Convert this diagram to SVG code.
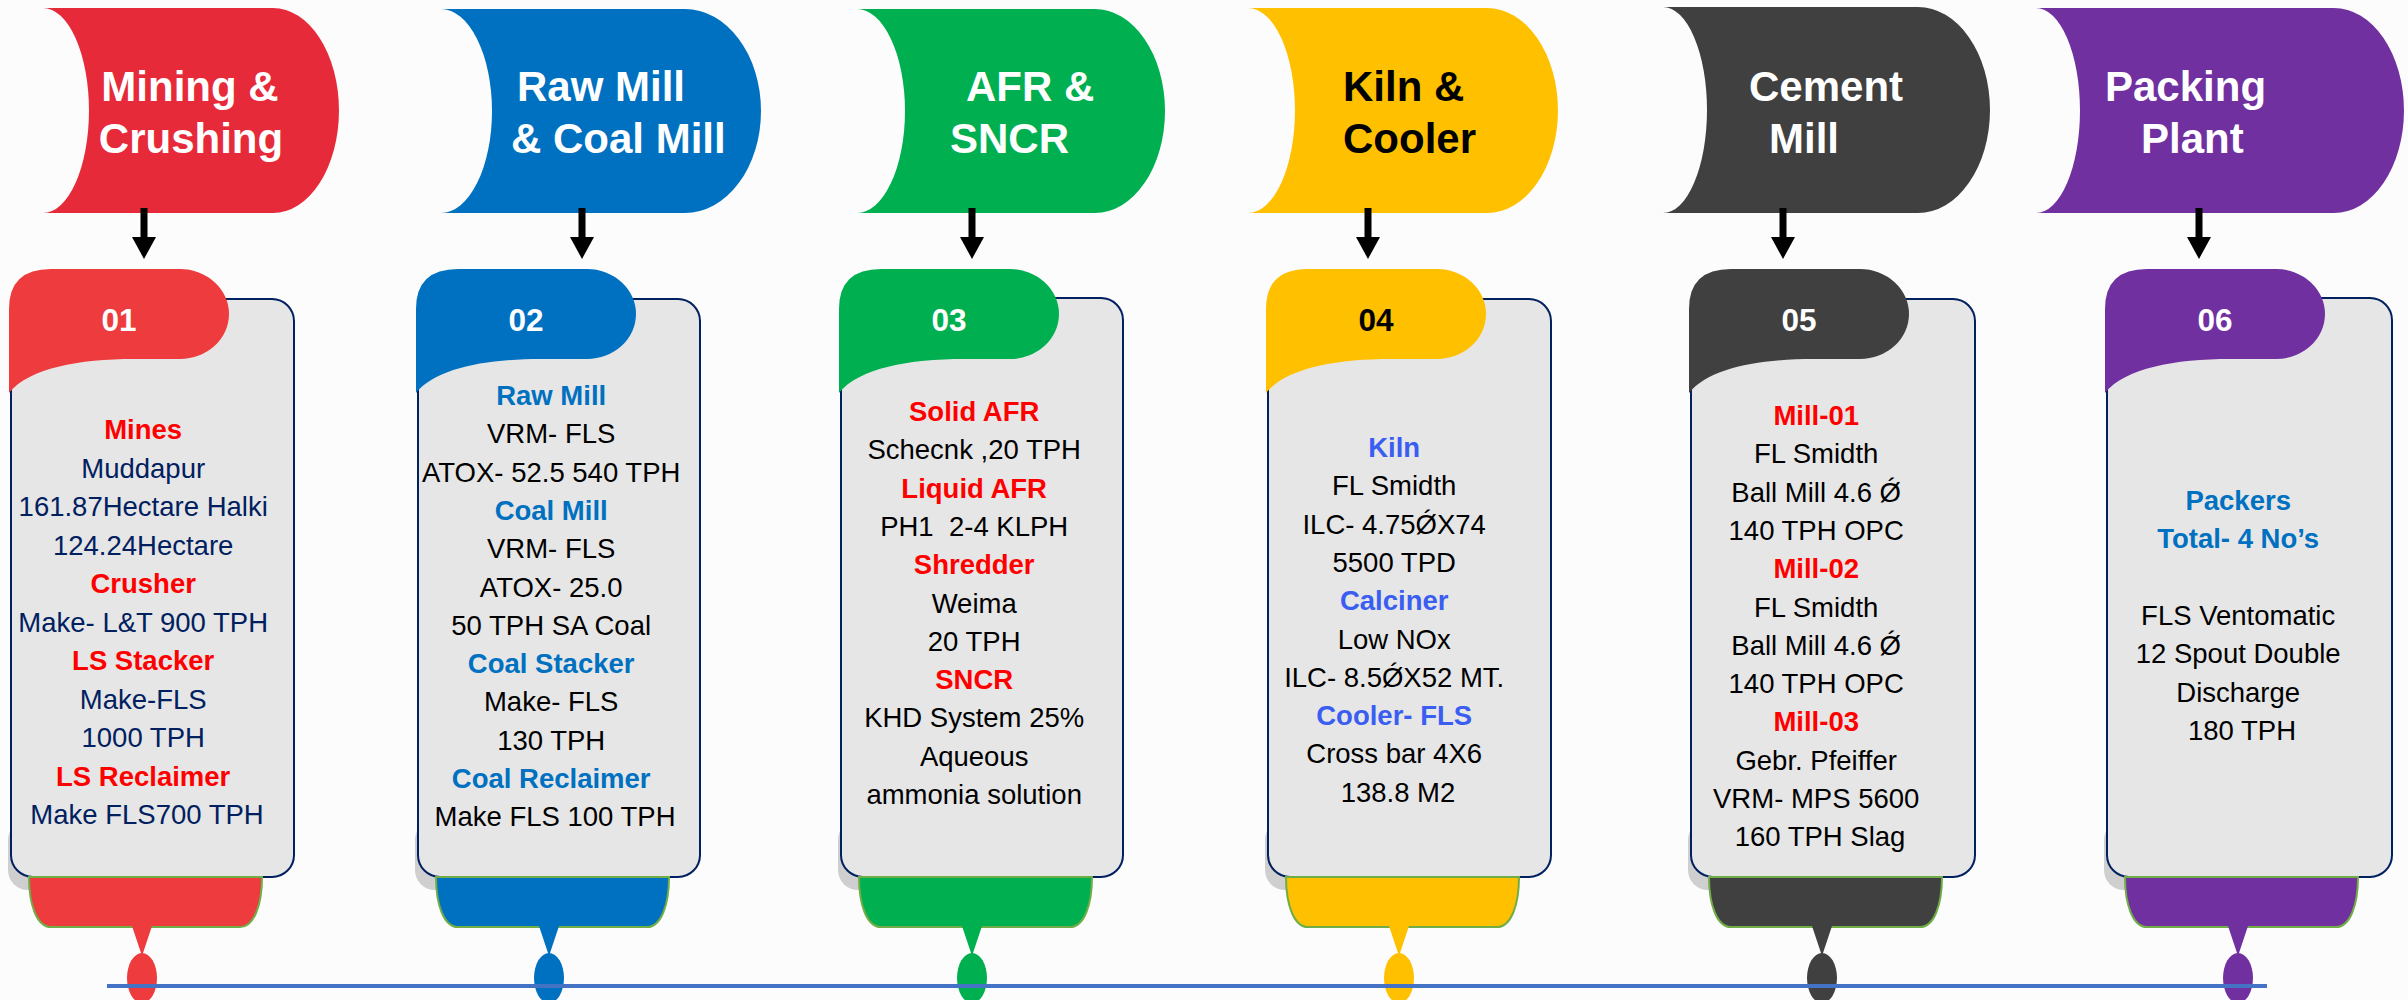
<svg xmlns="http://www.w3.org/2000/svg" width="2408" height="1000" viewBox="0 0 2408 1000">
<defs>
<marker id="ah" markerUnits="userSpaceOnUse" markerWidth="22" markerHeight="24" refX="0" refY="12" orient="auto" viewBox="0 0 22 24"><path d="M0,0 L22,12 L0,24 Z" fill="#000"/></marker>
<style>
.hd{font-family:"Liberation Sans",Arial,sans-serif;font-weight:bold;font-size:42px;fill:#fff}
.num{font-family:"Liberation Sans",Arial,sans-serif;font-weight:bold;font-size:31.5px;fill:#fff;text-anchor:middle}
.bx{fill:#E6E6E6;stroke:#002060;stroke-width:2}
.sh{fill:#CFCFCF}
.bt{stroke:#70AD47;stroke-width:2}
.tx{font-family:"Liberation Sans",Arial,sans-serif;font-size:27.5px;fill:#000;text-anchor:middle}
.b{font-weight:bold}
.r{fill:#FF0000}
.bl{fill:#0070C0}
.bl2{fill:#3A5DF2}
.nv{fill:#002060}
.arr{stroke:#000;stroke-width:7;fill:none}
</style>
</defs>
<rect width="2408" height="1000" fill="#FCFCFC"/>

<!-- Headers -->
<g id="header1">
<path d="M43,8 L273,8 A66,102.5 0 0 1 273,213 L43,213 A46,102.5 0 0 0 43,8 Z" fill="#E62A3A"/>
<text class="hd" x="190" y="101" text-anchor="middle">Mining &amp;</text>
<text class="hd" x="191" y="153" text-anchor="middle">Crushing</text>
</g>
<g id="header2">
<path d="M441,9 L685,9 A76,102 0 0 1 685,213 L441,213 A51,102 0 0 0 441,9 Z" fill="#0070C0"/>
<text class="hd" x="517" y="101">Raw Mill</text>
<text class="hd" x="511" y="153">&amp; Coal Mill</text>
</g>
<g id="header3">
<path d="M857,9 L1095,9 A70,102 0 0 1 1095,213 L857,213 A48,102 0 0 0 857,9 Z" fill="#00B050"/>
<text class="hd" x="966" y="101">AFR &amp;</text>
<text class="hd" x="950" y="153">SNCR</text>
</g>
<g id="header4">
<path d="M1248,8 L1487,8 A71,102.5 0 0 1 1487,213 L1248,213 A47,102.5 0 0 0 1248,8 Z" fill="#FFC000"/>
<text class="hd" x="1343" y="101" style="fill:#000">Kiln &amp;</text>
<text class="hd" x="1343" y="153" style="fill:#000">Cooler</text>
</g>
<g id="header5">
<path d="M1663,7 L1918,7 A72,103 0 0 1 1918,213 L1663,213 A44,103 0 0 0 1663,7 Z" fill="#404040"/>
<text class="hd" x="1749" y="101">Cement</text>
<text class="hd" x="1769" y="153">Mill</text>
</g>
<g id="header6">
<path d="M2036,8 L2334,8 A70,102.5 0 0 1 2334,213 L2036,213 A44,102.5 0 0 0 2036,8 Z" fill="#7030A0"/>
<text class="hd" x="2105" y="101">Packing</text>
<text class="hd" x="2141" y="153">Plant</text>
</g>

<!-- Cards -->
<g id="card1">
<rect class="sh" x="8" y="820" width="255" height="70" rx="20"/>
<rect class="bx" x="11" y="299" width="283" height="578" rx="22"/>
<path d="M9,309 Q9,269 51,269 L180,269 A49,45 0 0 1 180,359 L134,359 C79,359 29,368 9,393 Z" fill="#EE3B3E"/>
<text class="num" x="119" y="331">01</text>
<path class="bt" d="M29,877 L262,877 C262,905 254,927 240,927 L51,927 C37,927 29,905 29,877 Z" fill="#EE3B3E"/>
<path d="M132,926 L152,926 L142,956 Z" fill="#EE3B3E"/>
<ellipse cx="142" cy="978" rx="15" ry="25" fill="#EE3B3E"/>
<text class="tx nv">
<tspan x="147" y="439" class="b r">Mines</tspan>
<tspan x="147" y="477.5">Muddapur</tspan>
<tspan x="147" y="516">161.87Hectare Halki</tspan>
<tspan x="147" y="554.5">124.24Hectare</tspan>
<tspan x="147" y="593" class="b r">Crusher</tspan>
<tspan x="147" y="631.5">Make- L&amp;T 900 TPH</tspan>
<tspan x="147" y="670" class="b r">LS Stacker</tspan>
<tspan x="147" y="708.5">Make-FLS</tspan>
<tspan x="147" y="747">1000 TPH</tspan>
<tspan x="147" y="785.5" class="b r">LS Reclaimer</tspan>
<tspan x="147" y="824">Make FLS700 TPH</tspan>
</text>
</g>

<g id="card2">
<rect class="sh" x="415" y="820" width="255" height="70" rx="20"/>
<rect class="bx" x="418" y="299" width="282" height="578" rx="22"/>
<path d="M416,309 Q416,269 458,269 L587,269 A49,45 0 0 1 587,359 L541,359 C486,359 436,368 416,393 Z" fill="#0070C0"/>
<text class="num" x="526" y="331">02</text>
<path class="bt" d="M436,877 L669,877 C669,905 661,927 647,927 L458,927 C444,927 436,905 436,877 Z" fill="#0070C0"/>
<path d="M539,926 L559,926 L549,956 Z" fill="#0070C0"/>
<ellipse cx="549" cy="978" rx="15" ry="25" fill="#0070C0"/>
<text class="tx">
<tspan x="555" y="405" class="b bl">Raw Mill</tspan>
<tspan x="555" y="443.3">VRM- FLS</tspan>
<tspan x="555" y="481.6">ATOX- 52.5 540 TPH</tspan>
<tspan x="555" y="519.9" class="b bl">Coal Mill</tspan>
<tspan x="555" y="558.2">VRM- FLS</tspan>
<tspan x="555" y="596.5">ATOX- 25.0</tspan>
<tspan x="555" y="634.8">50 TPH SA Coal</tspan>
<tspan x="555" y="673.1" class="b bl">Coal Stacker</tspan>
<tspan x="555" y="711.4">Make- FLS</tspan>
<tspan x="555" y="749.7">130 TPH</tspan>
<tspan x="555" y="788" class="b bl">Coal Reclaimer</tspan>
<tspan x="555" y="826.3">Make FLS 100 TPH</tspan>
</text>
</g>

<g id="card3">
<rect class="sh" x="838" y="820" width="255" height="70" rx="20"/>
<rect class="bx" x="841" y="298" width="282" height="579" rx="22"/>
<path d="M839,309 Q839,269 881,269 L1010,269 A49,45 0 0 1 1010,359 L964,359 C909,359 859,368 839,393 Z" fill="#00B050"/>
<text class="num" x="949" y="331">03</text>
<path class="bt" d="M859,877 L1092,877 C1092,905 1084,927 1070,927 L881,927 C867,927 859,905 859,877 Z" fill="#00B050"/>
<path d="M962,926 L982,926 L972,956 Z" fill="#00B050"/>
<ellipse cx="972" cy="978" rx="15" ry="25" fill="#00B050"/>
<text class="tx" xml:space="preserve">
<tspan x="978" y="421" class="b r">Solid AFR</tspan>
<tspan x="978" y="459.3">Schecnk ,20 TPH</tspan>
<tspan x="978" y="497.6" class="b r">Liquid AFR</tspan>
<tspan x="978" y="535.9">PH1  2-4 KLPH</tspan>
<tspan x="978" y="574.2" class="b r">Shredder</tspan>
<tspan x="978" y="612.5">Weima</tspan>
<tspan x="978" y="650.8">20 TPH</tspan>
<tspan x="978" y="689.1" class="b r">SNCR</tspan>
<tspan x="978" y="727.4">KHD System 25%</tspan>
<tspan x="978" y="765.7">Aqueous</tspan>
<tspan x="978" y="804">ammonia solution</tspan>
</text>
</g>

<g id="card4">
<rect class="sh" x="1265" y="820" width="255" height="70" rx="20"/>
<rect class="bx" x="1268" y="299" width="283" height="578" rx="22"/>
<path d="M1266,309 Q1266,269 1308,269 L1437,269 A49,45 0 0 1 1437,359 L1391,359 C1336,359 1286,368 1266,393 Z" fill="#FFC000"/>
<text class="num" x="1376" y="331" style="fill:#000">04</text>
<path class="bt" d="M1286,877 L1519,877 C1519,905 1511,927 1497,927 L1308,927 C1294,927 1286,905 1286,877 Z" fill="#FFC000"/>
<path d="M1389,926 L1409,926 L1399,956 Z" fill="#FFC000"/>
<ellipse cx="1399" cy="978" rx="15" ry="25" fill="#FFC000"/>
<text class="tx">
<tspan x="1398" y="457" class="b bl2">Kiln</tspan>
<tspan x="1398" y="495.3">FL Smidth</tspan>
<tspan x="1398" y="533.6">ILC- 4.75ǾX74</tspan>
<tspan x="1398" y="571.9">5500 TPD</tspan>
<tspan x="1398" y="610.2" class="b bl2">Calciner</tspan>
<tspan x="1398" y="648.5">Low NOx</tspan>
<tspan x="1398" y="686.8">ILC- 8.5ǾX52 MT.</tspan>
<tspan x="1398" y="725.1" class="b bl2">Cooler- FLS</tspan>
<tspan x="1398" y="763.4">Cross bar 4X6</tspan>
<tspan x="1398" y="801.7">138.8 M2</tspan>
</text>
</g>

<g id="card5">
<rect class="sh" x="1688" y="820" width="255" height="70" rx="20"/>
<rect class="bx" x="1691" y="299" width="284" height="578" rx="22"/>
<path d="M1689,309 Q1689,269 1731,269 L1860,269 A49,45 0 0 1 1860,359 L1814,359 C1759,359 1709,368 1689,393 Z" fill="#404040"/>
<text class="num" x="1799" y="331">05</text>
<path class="bt" d="M1709,877 L1942,877 C1942,905 1934,927 1920,927 L1731,927 C1717,927 1709,905 1709,877 Z" fill="#404040"/>
<path d="M1812,926 L1832,926 L1822,956 Z" fill="#404040"/>
<ellipse cx="1822" cy="978" rx="15" ry="25" fill="#404040"/>
<text class="tx">
<tspan x="1820" y="425" class="b r">Mill-01</tspan>
<tspan x="1820" y="463.3">FL Smidth</tspan>
<tspan x="1820" y="501.6">Ball Mill 4.6 Ǿ</tspan>
<tspan x="1820" y="539.9">140 TPH OPC</tspan>
<tspan x="1820" y="578.2" class="b r">Mill-02</tspan>
<tspan x="1820" y="616.5">FL Smidth</tspan>
<tspan x="1820" y="654.8">Ball Mill 4.6 Ǿ</tspan>
<tspan x="1820" y="693.1">140 TPH OPC</tspan>
<tspan x="1820" y="731.4" class="b r">Mill-03</tspan>
<tspan x="1820" y="769.7">Gebr. Pfeiffer</tspan>
<tspan x="1820" y="808">VRM- MPS 5600</tspan>
<tspan x="1820" y="846.3">160 TPH Slag</tspan>
</text>
</g>

<g id="card6">
<rect class="sh" x="2104" y="820" width="255" height="70" rx="20"/>
<rect class="bx" x="2107" y="298" width="285" height="579" rx="22"/>
<path d="M2105,309 Q2105,269 2147,269 L2276,269 A49,45 0 0 1 2276,359 L2230,359 C2175,359 2125,368 2105,393 Z" fill="#7030A0"/>
<text class="num" x="2215" y="331">06</text>
<path class="bt" d="M2125,877 L2358,877 C2358,905 2350,927 2336,927 L2147,927 C2133,927 2125,905 2125,877 Z" fill="#7030A0"/>
<path d="M2228,926 L2248,926 L2238,956 Z" fill="#7030A0"/>
<ellipse cx="2238" cy="978" rx="15" ry="25" fill="#7030A0"/>
<text class="tx">
<tspan x="2242" y="510" class="b bl">Packers</tspan>
<tspan x="2242" y="548.3" class="b bl">Total- 4 No’s</tspan>
<tspan x="2242" y="625">FLS Ventomatic</tspan>
<tspan x="2242" y="663.3">12 Spout Double</tspan>
<tspan x="2242" y="701.6">Discharge</tspan>
<tspan x="2242" y="739.9">180 TPH</tspan>
</text>
</g>

<!-- Connectors -->
<g id="connectors">
<line class="arr" x1="144" y1="208" x2="144" y2="237" marker-end="url(#ah)"/>
<line class="arr" x1="582" y1="208" x2="582" y2="237" marker-end="url(#ah)"/>
<line class="arr" x1="972" y1="208" x2="972" y2="237" marker-end="url(#ah)"/>
<line class="arr" x1="1368" y1="208" x2="1368" y2="237" marker-end="url(#ah)"/>
<line class="arr" x1="1783" y1="208" x2="1783" y2="237" marker-end="url(#ah)"/>
<line class="arr" x1="2199" y1="208" x2="2199" y2="237" marker-end="url(#ah)"/>
<line x1="107" y1="986" x2="2267" y2="986" stroke="#4472C4" stroke-width="4"/>
</g>
</svg>
